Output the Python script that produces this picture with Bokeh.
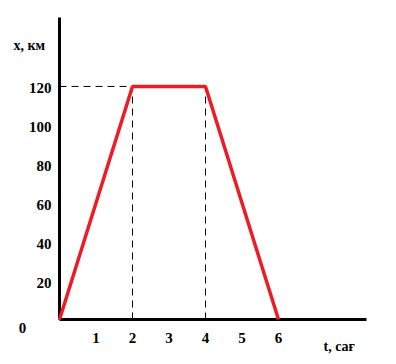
from bokeh.plotting import figure
from bokeh.models import Range1d
from bokeh.core.properties import value
from bokeh.embed import file_html
from bokeh.resources import INLINE

# Data
t_hours = [0, 2, 4, 6]
x_km = [0, 120, 120, 0]
x_ticks = [1, 2, 3, 4, 5, 6]
y_ticks = [20, 40, 60, 80, 100, 120]
x_label = "t, сағ"
y_label = "x, км"

FONT = "Liberation Serif"
RED = "#ed1c24"

# scales: 36.5 px per hour, 1.942 px per km, origin at pixel (59, 319)
XS, YS = 36.5, 1.942
X0, Y0 = 59, 319
W, H = 396, 364
x_axis_end = (366 - X0) / XS
y_axis_end = (Y0 - 17) / YS

p = figure(width=W, height=H, output_backend="svg", toolbar_location=None,
           x_range=Range1d(-X0 / XS, (W - X0) / XS),
           y_range=Range1d(-(H - Y0) / YS, Y0 / YS),
           min_border=0, x_axis_type=None, y_axis_type=None)
p.outline_line_color = None
p.grid.visible = False
p.background_fill_color = "white"
p.border_fill_color = "white"

# axes
p.line([0, 0], [0, y_axis_end], line_color="black", line_width=3)
p.line([0, x_axis_end], [0, 0], line_color="black", line_width=3)

# tick labels
p.text(x=x_ticks, y=[0] * len(x_ticks), text=[str(v) for v in x_ticks],
       text_font=value(FONT), text_font_style="bold", text_font_size="15px",
       text_color="black", text_align="center", text_baseline="middle", y_offset=18)
p.text(x=[0] * len(y_ticks), y=y_ticks, text=[str(v) for v in y_ticks],
       text_font=value(FONT), text_font_style="bold", text_font_size="15px",
       text_color="black", text_align="right", text_baseline="middle", x_offset=-8, y_offset=2)
p.text(x=[0], y=[0], text=["0"],
       text_font=value(FONT), text_font_style="bold", text_font_size="15px",
       text_color="black", text_align="center", text_baseline="middle", x_offset=-37, y_offset=8)

# dashed guide lines
p.line([t_hours[0], t_hours[1]], [x_km[1], x_km[1]], line_color="black", line_width=1, line_dash="7 5")
p.line([t_hours[1], t_hours[1]], [0, x_km[1]], line_color="black", line_width=1, line_dash="7 5")
p.line([t_hours[2], t_hours[2]], [0, x_km[2]], line_color="black", line_width=1, line_dash="7 5")

# graph
p.line(t_hours, x_km, line_color=RED, line_width=3.5)

# axis titles
p.text(x=[0], y=[y_axis_end], text=[y_label],
       text_font=value(FONT), text_font_style="bold", text_font_size="14px",
       text_color="black", text_align="left", text_baseline="alphabetic", x_offset=-46, y_offset=28)
p.text(x=[x_axis_end], y=[0], text=[x_label],
       text_font=value(FONT), text_font_style="bold", text_font_size="14px",
       text_color="black", text_align="left", text_baseline="alphabetic", x_offset=-43, y_offset=27)

open("out.html", "w").write(file_html(p, INLINE))
